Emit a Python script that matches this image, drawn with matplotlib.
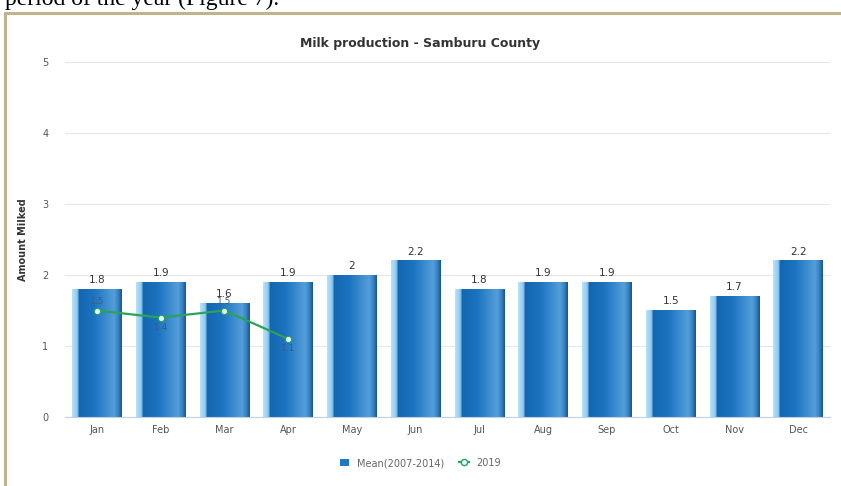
import matplotlib.pyplot as plt
import numpy as np
from matplotlib.colors import LinearSegmentedColormap
from matplotlib.lines import Line2D
from matplotlib.patches import Rectangle

months = ['Jan', 'Feb', 'Mar', 'Apr', 'May', 'Jun', 'Jul', 'Aug', 'Sep', 'Oct', 'Nov', 'Dec']
mean_values = [1.8, 1.9, 1.6, 1.9, 2.0, 2.2, 1.8, 1.9, 1.9, 1.5, 1.7, 2.2]
values_2019 = [1.5, 1.4, 1.5, 1.1]
labels_2019 = ['1.5', '1.4', '1.5', '1.1']

# horizontal shading across each bar: pale rim, dark body, lighter right side
bar_cmap = LinearSegmentedColormap.from_list('bar', [
    (0.00, '#b9e0f7'), (0.10, '#8ccaf0'), (0.14, '#1565b0'),
    (0.45, '#1c74c0'), (0.85, '#549ed9'), (0.93, '#3a84c4'), (1.00, '#1a5894')])
grad = np.linspace(0, 1, 64).reshape(1, -1)

fig = plt.figure(figsize=(8.41, 4.86), dpi=100)
fig.patch.set_facecolor('white')

# text of the page above the chart frame (clipped at the top)
fig.text(0.006, 1.0 - 5 / 486, 'period of the year (Figure 7).', family='Liberation Serif',
         fontsize=17, color='black', va='baseline', ha='left')
frame = Rectangle((5 / 841, -0.01), 1.0, 1.0 - 13 / 486 + 0.01, transform=fig.transFigure,
                  fill=False, edgecolor='#bdb48e', linewidth=2.2, clip_on=False)
fig.patches.append(frame)

ax = fig.add_axes([65 / 841, 1 - 417 / 486, 765 / 841, 355 / 486])
x = np.arange(len(months))
width = 0.78

ax.yaxis.grid(True, color='#e6e6e6', linewidth=0.8)
ax.set_axisbelow(True)

for xi, v in zip(x, mean_values):
    ax.imshow(grad, cmap=bar_cmap, aspect='auto', zorder=2,
              extent=(xi - width / 2, xi + width / 2, 0, v))
    ax.text(xi, v + 0.06, '{:g}'.format(v), ha='center', va='bottom',
            fontsize=7.5, color='#333333', zorder=5)

ax.plot(x[:len(values_2019)], values_2019, color='#2aa35a', linewidth=1.6, zorder=4,
        marker='o', markersize=4.5, markerfacecolor='#e8fbff', markeredgecolor='#2aa35a',
        markeredgewidth=0.8)
for xi, v, lab in zip(x, values_2019, labels_2019):
    dy = 0.06 if xi == 0 or xi == 2 else -0.2
    ax.text(xi, v + dy, lab, ha='center', va='bottom', fontsize=6.5, color='#3d5a80', zorder=5)

ax.set_xlim(-0.5, len(months) - 0.5)
ax.set_ylim(0, 5)
ax.set_yticks([0, 1, 2, 3, 4, 5])
ax.set_xticks(x)
ax.set_xticklabels(months)
ax.tick_params(axis='both', length=0, labelsize=7, colors='#555555', pad=6)
ax.tick_params(axis='y', pad=12)
for side in ['top', 'right', 'left']:
    ax.spines[side].set_visible(False)
ax.spines['bottom'].set_color('#c0d0e0')

ax.set_ylabel('Amount Milked', fontsize=7, fontweight='bold', color='#333333', labelpad=10)
fig.text(0.5, 1 - 43 / 486, 'Milk production - Samburu County', ha='center', va='center',
         fontsize=9, fontweight='bold', color='#333333')

handles = [Rectangle((0, 0), 1, 1, facecolor='#1f78c4'),
           Line2D([], [], color='#2aa35a', marker='o', markersize=4.5,
                  markerfacecolor='#e8fbff', linewidth=1.6)]
fig.legend(handles, ['Mean(2007-2014)', '2019'], loc='center', ncol=2,
           bbox_to_anchor=(0.5, 1 - 463 / 486), frameon=False, fontsize=7,
           labelcolor='#666666', handlelength=1.0, handleheight=0.8, columnspacing=1.5)

fig.savefig('out.png', dpi=100)
